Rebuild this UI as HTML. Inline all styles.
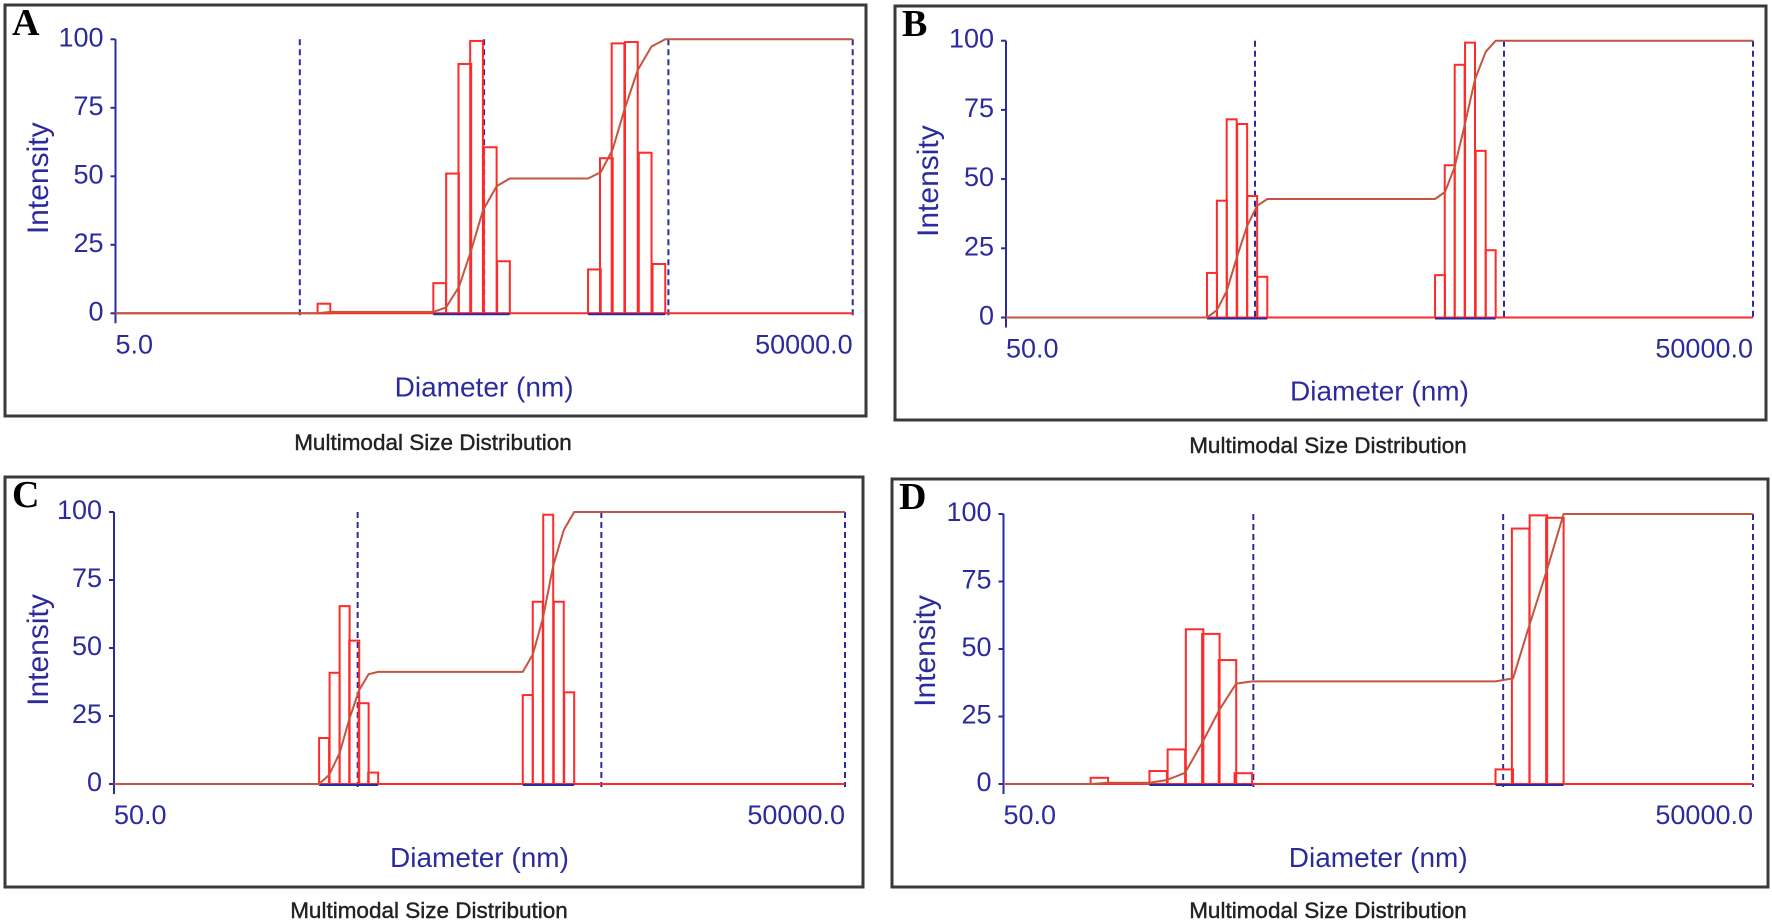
<!DOCTYPE html>
<html><head><meta charset="utf-8"><title>Multimodal Size Distribution</title>
<style>
html,body{margin:0;padding:0;background:#fff;}
svg{display:block;}
.sans{font-family:"Liberation Sans",Arial,sans-serif;}
.serif{font-family:"Liberation Serif","Times New Roman",serif;}
</style></head>
<body>
<svg id="fig" width="1772" height="924" viewBox="0 0 1772 924" xmlns="http://www.w3.org/2000/svg"></svg>
<script>
// ---- Data (diameter in nm at bin centre, intensity in %) ----
const aDiam = [67.6, 287, 337, 393, 455, 540, 637, 1984, 2303, 2665, 3148, 3740, 4440];
const aInt  = [3.5, 11, 51, 91, 99.4, 60.6, 19, 16, 56.6, 98.5, 99, 58.6, 18];
const bDiam = [336, 368, 403, 444, 487, 535, 2767, 3027, 3319, 3652, 4031, 4421];
const bInt  = [16.1, 42.2, 71.6, 69.9, 43.9, 14.7, 15.3, 55, 91.3, 99.3, 60.2, 24.3];
const cDiam = [364, 402, 442, 484, 529, 579, 2495, 2742, 3027, 3344, 3690];
const cInt  = [16.9, 40.9, 65.4, 52.7, 29.7, 4.2, 32.7, 67, 99, 67, 33.7];
const dDiam = [121, 208, 246, 291, 338, 394, 456, 5051, 5873, 6918, 8054];
const dInt  = [2.3, 4.8, 12.8, 57.3, 55.6, 45.9, 4, 5.4, 94.6, 99.5, 98.6];
const yTicks = [0, 25, 50, 75, 100];
const aRange = [5, 50000];
const bRange = [50, 50000];
const cRange = [50, 50000];
const dRange = [50, 50000];
const aXLabels = ["5.0", "50000.0"];
const bXLabels = ["50.0", "50000.0"];
const cXLabels = ["50.0", "50000.0"];
const dXLabels = ["50.0", "50000.0"];
const aGrid = [50, 500, 5000, 50000];
const bGrid = [500, 5000, 50000];
const cGrid = [500, 5000, 50000];
const dGrid = [500, 5000, 50000];

const NS = "http://www.w3.org/2000/svg";
const svg = document.getElementById("fig");
function mk(tag, attrs, parent){
  const e = document.createElementNS(NS, tag);
  for (const k in attrs) e.setAttribute(k, attrs[k]);
  (parent||svg).appendChild(e);
  return e;
}
const BLUE = "#2b2b9e", RED = "#ff2a2a", CUM = "#c4553e";

const panels = [
  {id:"a", letter:"A", box:[5,5,861,411], x0:115.5, x1:852.7, y0:313.3, y100:39.3, range:aRange, labels:aXLabels, grid:aGrid, diam:aDiam, inten:aInt, bw:0.069, cap:[433,450]},
  {id:"b", letter:"B", box:[895,6,871,414], x0:1006, x1:1753, y0:317.5, y100:40.7, range:bRange, labels:bXLabels, grid:bGrid, diam:bDiam, inten:bInt, bw:0.040, cap:[1328,453]},
  {id:"c", letter:"C", box:[5,477,858,410], x0:114, x1:845, y0:784, y100:512, range:cRange, labels:cXLabels, grid:cGrid, diam:cDiam, inten:cInt, bw:0.041, cap:[429,918]},
  {id:"d", letter:"D", box:[892,479,876,408], x0:1003.5, x1:1753, y0:784, y100:514, range:dRange, labels:dXLabels, grid:dGrid, diam:dDiam, inten:dInt, bw:0.070, cap:[1328,918]}
];

panels.forEach(p => {
  const g = mk("g", {});
  
  
  const lmin = Math.log10(p.range[0]), lmax = Math.log10(p.range[1]);
  const xs = l => p.x0 + (l - lmin) / (lmax - lmin) * (p.x1 - p.x0);
  const ys = v => p.y0 - v / 100 * (p.y0 - p.y100);

  const box = mk("rect", {x:p.box[0], y:p.box[1], width:p.box[2], height:p.box[3], fill:"none", stroke:"#3a3a3a", "stroke-width":3}, g);
  
  

  const let_ = mk("text", {x:p.box[0]+7, y:p.box[1]+30, "class":"serif", "font-weight":"bold", "font-size":38, fill:"#000"}, g);
  let_.textContent = p.letter;
  
  

  p.grid.forEach(v => {
    const x = xs(Math.log10(v));
    const l = mk("line", {x1:x, x2:x, y1:p.y100, y2:p.y0+3, stroke:BLUE, "stroke-width":2, "stroke-dasharray":"6,4"}, g);
    
    
  });

  const ax = mk("line", {x1:p.x0, x2:p.x0, y1:p.y100, y2:p.y0+10, stroke:BLUE, "stroke-width":2}, g);
  
  
  yTicks.forEach(t => {
    const y = ys(t);
    const tk = mk("line", {x1:p.x0-5, x2:p.x0, y1:y, y2:y, stroke:BLUE, "stroke-width":2}, g);
    
    
    const tl = mk("text", {x:p.x0-12, y:y+7, "class":"sans", "text-anchor":"end", "font-size":27, fill:BLUE}, g);
    tl.textContent = String(t);
    
    
  });

  const bl = mk("line", {x1:p.x0, x2:p.x1, y1:p.y0, y2:p.y0, stroke:RED, "stroke-width":2}, g);
  
  

  const half = p.bw / 2;
  let total = 0; p.inten.forEach(v => total += v);
  let cum = 0;
  const pts = [];
  p.diam.forEach((d, i) => {
    const l = Math.log10(d);
    const xa = xs(l - half), xb = xs(l + half);
    const yt = ys(p.inten[i]);
    const r = mk("rect", {x:xa, y:yt, width:xb-xa, height:p.y0-yt, fill:"none", stroke:RED, "stroke-width":2}, g);
    
    
    if (i === 0 || pts.length === 0) pts.push([xa, 0]);
    else {
      const prevR = Math.log10(p.diam[i-1]) + half;
      if (l - half - prevR > 0.01) pts.push([xs(l - half), cum / total * 100]);
    }
    cum += p.inten[i];
    pts.push([xb, cum / total * 100]);
  });
  let segStart = null;
  p.diam.forEach((d, i) => {
    const l = Math.log10(d);
    if (segStart === null) segStart = l - half;
    const next = i + 1 < p.diam.length ? Math.log10(p.diam[i+1]) - half : null;
    if (next === null || next - (l + half) > 0.01) {
      if (p.inten[i] > 5 || (i > 0 && p.inten[i-1] > 5)) {
        const s = mk("line", {x1:xs(segStart), x2:xs(l + half), y1:p.y0+1, y2:p.y0+1, stroke:BLUE, "stroke-width":2}, g);
        
        
      }
      segStart = null;
    }
  });
  pts.push([p.x1, 100]);
  const pathD = "M" + p.x0 + "," + p.y0 + " L" + pts.map(q => q[0].toFixed(1) + "," + ys(q[1]).toFixed(1)).join(" L");
  const cu = mk("path", {d:pathD, fill:"none", stroke:CUM, "stroke-width":2, "stroke-linejoin":"round"}, g);
  
  

  const xl0 = mk("text", {x:p.x0, y:p.y0+40, "class":"sans", "font-size":27, fill:BLUE}, g);
  xl0.textContent = p.labels[0];
  
  
  const xl1 = mk("text", {x:p.x1, y:p.y0+40, "class":"sans", "text-anchor":"end", "font-size":27, fill:BLUE}, g);
  xl1.textContent = p.labels[1];
  
  

  const xt = mk("text", {x:(p.x0+p.x1)/2, y:p.y0+83, "class":"sans", "text-anchor":"middle", "font-size":28, fill:BLUE}, g);
  xt.textContent = "Diameter (nm)";
  
  

  const ycx = p.box[0] + 33, ycy = (p.y0 + p.y100) / 2 - 8;
  const yt = mk("text", {x:ycx, y:ycy, "class":"sans", "text-anchor":"middle", "font-size":30, fill:BLUE, transform:"rotate(-90 " + (ycx+10) + " " + ycy + ")"}, g);
  yt.textContent = "Intensity";
  
  

  const cap = mk("text", {x:p.cap[0], y:p.cap[1], "class":"sans", "text-anchor":"middle", "font-size":22.5, fill:"#222", stroke:"#222", "stroke-width":0.4}, g);
  cap.textContent = "Multimodal Size Distribution";
  
  
});
</script>
</body></html>
